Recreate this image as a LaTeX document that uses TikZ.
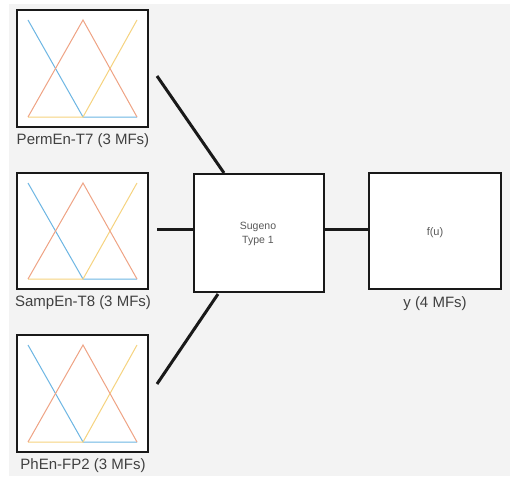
\documentclass[tikz,border=0pt]{standalone}
\usepackage{fontspec}
\setmainfont{Liberation Sans}
\definecolor{bg}{HTML}{F3F3F3}
\definecolor{txt}{HTML}{404040}
\definecolor{mfblue}{HTML}{6DB6E3}
\definecolor{mforange}{HTML}{EFA384}
\definecolor{mfyellow}{HTML}{F6D37F}
\begin{document}
\begin{tikzpicture}[x=1pt,y=-1pt,
  boxst/.style={draw=black!90,line width=2pt,fill=white},
  conn/.style={line width=3pt,black!90},
  lab/.style={text=txt,font=\fontsize{15}{16}\selectfont,anchor=center},
  small/.style={text=black!65,font=\fontsize{10.5}{14}\selectfont,align=center},
  mf/.style={line width=1pt}]
\useasboundingbox (0,0) rectangle (510,476);
\fill[white] (0,0) rectangle (510,476);
\fill[bg] (9,4) rectangle (510,476);
% input boxes
\foreach \n/\t/\b/\l in {in1/10/127/PermEn-T7 (3 MFs), in2/173/289/SampEn-T8 (3 MFs), in3/335/452/PhEn-FP2 (3 MFs)}{
  \draw[boxst] (17,\t) rectangle (148,\b);
  \coordinate (\n) at (148,\t);
  \pgfmathsetmacro{\pt}{\t+10}
  \pgfmathsetmacro{\pb}{\b-10}
  \draw[mf,mfblue] (28,\pt) -- (83,\pb) -- (137,\pb);
  \draw[mf,mfyellow] (28,\pb) -- (83,\pb) -- (137,\pt);
  \draw[mf,mforange] (28,\pb) -- (83,\pt) -- (137,\pb);
  \pgfmathsetmacro{\ly}{\b+14}
  \node[lab] (\n lab) at (83,\ly) {\l};
}
% Sugeno box
\node[boxst,minimum width=130pt,minimum height=118pt,inner sep=0pt] (sug) at (259,233) {};
\node[small] (sugtxt) at (258,234) {Sugeno\\Type 1};
% output box
\node[boxst,minimum width=132pt,minimum height=116pt,inner sep=0pt] (out) at (435,231) {};
\node[text=black!65,font=\fontsize{11}{12}\selectfont] (fu) at (435,233) {f(u)};
\node[lab] (outlab) at (435,304) {y (4 MFs)};
% connector endpoints
\coordinate (c1) at (157,76);
\coordinate (c1e) at (224,173);
\coordinate (c2) at (157,229);
\coordinate (c3) at (157,384);
\coordinate (c3e) at (218,294);
\draw[conn] (c1) -- (c1e);
\draw[conn] (c2) -- (c2 -| sug.west);
\draw[conn] (c3) -- (c3e);
\draw[conn] (sug.east |- c2) -- (out.west |- c2);
\end{tikzpicture}
\end{document}
